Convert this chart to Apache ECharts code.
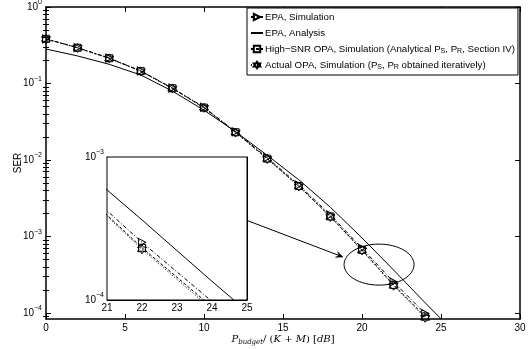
<!DOCTYPE html>
<html>
<head>
<meta charset="utf-8">
<script src="https://cdn.jsdelivr.net/npm/echarts@6/dist/echarts.min.js"></script>
<style>
  html, body { margin: 0; padding: 0; background: #fff; }
  #chart { width: 529px; height: 349px; }
</style>
</head>
<body>
<div id="chart"></div>
<script>
// SNR grid (dB)
const snrSim = [0, 2, 4, 6, 8, 10, 12, 14, 16, 18, 20, 22, 24];
const snrAna = [0, 2, 4, 6, 8, 10, 12, 14, 16, 18, 20, 22, 24, 25];

// SER values
const epaSim = [0.383, 0.294, 0.215, 0.146, 0.0871, 0.0489, 0.0234, 0.0107, 0.00471, 0.00191, 0.000700, 0.000253, 0.0000977];
const epaAna = [0.282, 0.229, 0.178, 0.129, 0.0794, 0.0447, 0.0234, 0.0115, 0.00550, 0.00240, 0.000955, 0.000363, 0.000135, 0.0000835];
const hsnrSim = [0.383, 0.293, 0.214, 0.145, 0.0865, 0.0483, 0.0230, 0.0104, 0.00455, 0.00182, 0.000665, 0.000232, 0.0000895];
const actSim = [0.382, 0.292, 0.213, 0.144, 0.0860, 0.0480, 0.0228, 0.0103, 0.00450, 0.00179, 0.000655, 0.000226, 0.0000860];

// axis ticks
const yMajor = [1e-4, 1e-3, 1e-2, 1e-1, 1];
const yInset = [1e-4, 1e-3];

const names = [
  'EPA, Simulation',
  'EPA, Analysis',
  'High−SNR OPA, Simulation (Analytical PS, PR, Section IV)',
  'Actual OPA, Simulation (PS, PR obtained iteratively)'
];
const legendText = {
  [names[0]]: 'EPA, Simulation',
  [names[1]]: 'EPA, Analysis',
  [names[2]]: 'High−SNR OPA, Simulation (Analytical P{sub|S}, P{sub|R}, Section IV)',
  [names[3]]: 'Actual OPA, Simulation (P{sub|S}, P{sub|R} obtained iteratively)'
};

// minor ticks 2..9 x 10^n
const yMinor = [];
for (let e = -5; e < 0; e++) {
  for (let k = 2; k <= 9; k++) yMinor.push(k * Math.pow(10, e));
}

const triRight = 'path://M0,0 L10,5 L0,10 Z';
const hexagram = 'path://M0,-100 L29,-50 L87,-50 L58,0 L87,50 L29,50 L0,100 L-29,50 L-87,50 L-58,0 L-87,-50 L-29,-50 Z';
const hollow = 'rgba(255,255,255,0)';
const font = 'Liberation Sans';

function pairs(xs, ys) {
  return xs.map((x, i) => [x, ys[i]]);
}

function supLabel(v) {
  const e = Math.round(Math.log10(v));
  return '{b|10}{s|' + (e < 0 ? '−' + (-e) : e) + '}';
}
const supRich = {
  b: { fontSize: 10, fontFamily: font, color: '#000', lineHeight: 16 },
  s: { fontSize: 7, fontFamily: font, color: '#000', lineHeight: 16, verticalAlign: 'top' }
};

const seriesDefs = [
  { name: names[0], x: snrSim, y: epaSim, dash: [4, 2, 1, 2], symbol: triRight, size: [7, 8] },
  { name: names[1], x: snrAna, y: epaAna, dash: 'solid', symbol: 'none', size: 0 },
  { name: names[2], x: snrSim, y: hsnrSim, dash: [3, 2], symbol: 'rect', size: 7 },
  { name: names[3], x: snrSim, y: actSim, dash: [1, 2], symbol: hexagram, size: 9 }
];

function makeSeries(xi, yi) {
  return seriesDefs.map(d => ({
    name: d.name,
    type: 'line',
    xAxisIndex: xi,
    yAxisIndex: yi,
    data: pairs(d.x, d.y),
    symbol: d.symbol,
    symbolSize: d.size,
    showSymbol: d.symbol !== 'none',
    lineStyle: { color: '#000', width: 1, type: d.dash },
    itemStyle: { color: hollow, borderColor: '#000', borderWidth: 1 },
    emphasis: { disabled: true },
    clip: true
  }));
}

const chart = echarts.init(document.getElementById('chart'));

const option = {
  animation: false,
  backgroundColor: '#fff',
  grid: [
    { left: 46, right: 9, top: 7, bottom: 30, outerBoundsMode: 'none' },
    { left: 107, width: 140, top: 157, height: 143, outerBoundsMode: 'none', show: true, backgroundColor: '#fff', borderColor: '#000', borderWidth: 1, z: 3 }
  ],
  legend: {
    data: names.map((n, i) => i === 1
      ? { name: n, itemStyle: { opacity: 0 } }
      : { name: n }),
    orient: 'vertical',
    left: 247,
    top: 8,
    itemWidth: 12,
    itemHeight: 8,
    itemGap: 4,
    padding: [3, 3, 4, 3],
    borderColor: '#000',
    borderWidth: 1,
    backgroundColor: '#fff',
    selectedMode: false,
    textStyle: {
      fontFamily: font, fontSize: 9.7, color: '#000', lineHeight: 12, padding: [0, 0, 0, -3],
      rich: {
        sub: { fontFamily: font, fontSize: 7, color: '#000', lineHeight: 12, verticalAlign: 'bottom' }
      }
    },
    formatter: n => legendText[n]
  },
  xAxis: [
    {
      type: 'value', gridIndex: 0, position: 'bottom', min: 0, max: 30, interval: 5,
      axisLine: { onZero: false, lineStyle: { color: '#000', width: 1.5 } },
      axisTick: { inside: true, length: 5, lineStyle: { color: '#000' } },
      axisLabel: { fontFamily: font, fontSize: 10, color: '#000', margin: 4 },
      splitLine: { show: false },
      name: '{i|P}{is|budget}{n|/ (}{i|K}{n| + }{i|M}{n|) [}{i|dB}{n|]}',
      nameLocation: 'middle',
      nameGap: 13,
      nameMoveOverlap: false,
      nameTextStyle: {
        rich: {
          i: { fontFamily: 'DejaVu Serif', fontStyle: 'italic', fontSize: 10, color: '#000', lineHeight: 14 },
          is: { fontFamily: 'DejaVu Serif', fontStyle: 'italic', fontSize: 7, color: '#000', lineHeight: 14, verticalAlign: 'bottom' },
          n: { fontFamily: 'DejaVu Serif', fontSize: 10, color: '#000', lineHeight: 14 }
        }
      }
    },
    {
      type: 'value', gridIndex: 0, position: 'top', min: 0, max: 30, interval: 5,
      axisLine: { onZero: false, lineStyle: { color: '#000', width: 1.5 } },
      axisTick: { inside: true, length: 5, lineStyle: { color: '#000' } },
      axisLabel: { show: false },
      splitLine: { show: false }
    },
    {
      type: 'value', gridIndex: 1, position: 'bottom', min: 21, max: 25, interval: 1,
      axisLine: { onZero: false, lineStyle: { color: '#000', width: 1 } },
      axisTick: { inside: true, length: 4, lineStyle: { color: '#000' } },
      axisLabel: { fontFamily: font, fontSize: 10, color: '#000', margin: 3 },
      splitLine: { show: false }
    },
    {
      type: 'value', gridIndex: 1, position: 'top', min: 21, max: 25, interval: 1,
      axisLine: { onZero: false, lineStyle: { color: '#000', width: 1 } },
      axisTick: { inside: true, length: 4, lineStyle: { color: '#000' } },
      axisLabel: { show: false },
      splitLine: { show: false }
    }
  ],
  yAxis: [
    {
      type: 'log', gridIndex: 0, position: 'left', min: 8.3e-5, max: 1,
      axisLine: { onZero: false, lineStyle: { color: '#000', width: 1.5 } },
      axisTick: { inside: true, length: 5, customValues: yMajor, lineStyle: { color: '#000' } },
      axisLabel: { customValues: yMajor, formatter: supLabel, rich: supRich, margin: 4 },
      splitLine: { show: false },
      name: 'SER',
      nameLocation: 'middle',
      nameGap: 23,
      nameMoveOverlap: false,
      nameTextStyle: { fontFamily: font, fontSize: 10, color: '#000' }
    },
    {
      type: 'log', gridIndex: 0, position: 'left', min: 8.3e-5, max: 1,
      axisLine: { show: false },
      axisTick: { inside: true, length: 3, customValues: yMinor, lineStyle: { color: '#000' } },
      axisLabel: { show: false },
      splitLine: { show: false }
    },
    {
      type: 'log', gridIndex: 0, position: 'right', min: 8.3e-5, max: 1,
      axisLine: { onZero: false, lineStyle: { color: '#000', width: 1.5 } },
      axisTick: { inside: true, length: 5, customValues: yMajor, lineStyle: { color: '#000' } },
      axisLabel: { show: false },
      splitLine: { show: false }
    },
    {
      type: 'log', gridIndex: 0, position: 'right', min: 8.3e-5, max: 1,
      axisLine: { show: false },
      axisTick: { inside: true, length: 3, customValues: yMinor, lineStyle: { color: '#000' } },
      axisLabel: { show: false },
      splitLine: { show: false }
    },
    {
      type: 'log', gridIndex: 1, position: 'left', min: 1e-4, max: 1e-3,
      axisLine: { onZero: false, lineStyle: { color: '#000', width: 1 } },
      axisTick: { show: false, customValues: yInset },
      axisLabel: { customValues: yInset, formatter: supLabel, rich: supRich, margin: 3 },
      splitLine: { show: false }
    },
    {
      type: 'log', gridIndex: 1, position: 'right', min: 1e-4, max: 1e-3,
      axisLine: { onZero: false, lineStyle: { color: '#000', width: 1 } },
      axisTick: { show: false },
      axisLabel: { show: false },
      splitLine: { show: false }
    }
  ],
  series: makeSeries(0, 0).concat(makeSeries(2, 4).map(s => Object.assign(s, { z: 4 })))
};

chart.setOption(option);

// callout: ellipse around the zoomed region and arrow from the inset
const c = chart.convertToPixel({ gridIndex: 0 }, [21.08, 4.27e-4]);
const a0 = chart.convertToPixel({ gridIndex: 1 }, [25, 3.6e-4]);
const a1 = chart.convertToPixel({ gridIndex: 0 }, [18.8, 5.37e-4]);
const ang = Math.atan2(a1[1] - a0[1], a1[0] - a0[0]);
const hl = 7, hw = 3;
const back = [a1[0] - hl * Math.cos(ang), a1[1] - hl * Math.sin(ang)];
const inner = [a1[0] - 0.6 * hl * Math.cos(ang), a1[1] - 0.6 * hl * Math.sin(ang)];
const pL = [back[0] + hw * Math.sin(ang), back[1] - hw * Math.cos(ang)];
const pR = [back[0] - hw * Math.sin(ang), back[1] + hw * Math.cos(ang)];

chart.setOption({
  graphic: [
    {
      type: 'ellipse', z: 10, silent: true,
      shape: { cx: c[0], cy: c[1], rx: 35, ry: 20.5 },
      style: { fill: null, stroke: '#000', lineWidth: 1 }
    },
    {
      type: 'line', z: 10, silent: true,
      shape: { x1: a0[0], y1: a0[1], x2: inner[0], y2: inner[1] },
      style: { stroke: '#000', lineWidth: 1 }
    },
    {
      type: 'polygon', z: 10, silent: true,
      shape: { points: [a1, pL, inner, pR] },
      style: { fill: '#000', stroke: '#000', lineWidth: 0.5 }
    }
  ]
});
</script>
</body>
</html>
